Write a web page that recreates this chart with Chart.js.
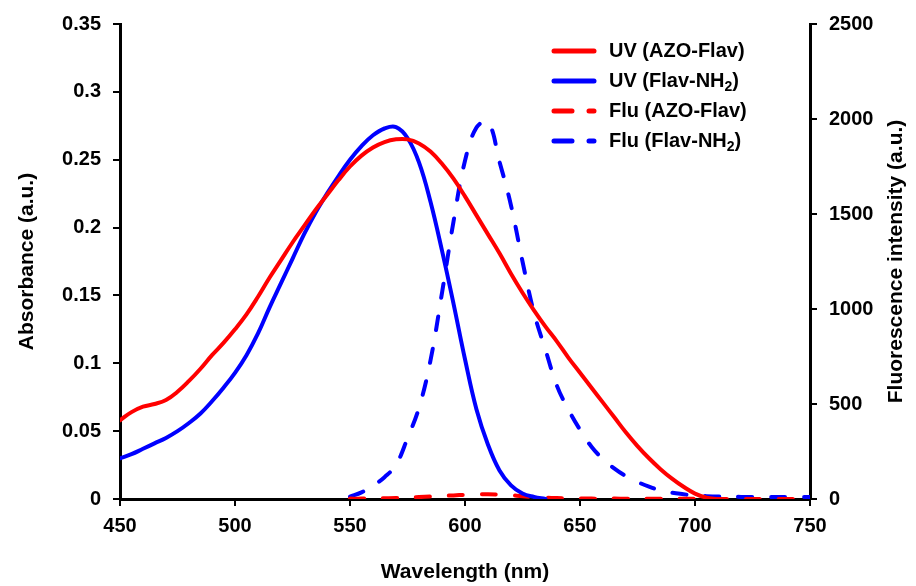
<!DOCTYPE html>
<html>
<head>
<meta charset="utf-8">
<script src="https://cdn.jsdelivr.net/npm/chart.js@4.4.0/dist/chart.umd.min.js"></script>
<style>
  body { margin: 0; background: #fff; }
  #wrap { width: 916px; height: 586px; position: relative; }
</style>
</head>
<body>
<div id="wrap"><canvas id="myChart"></canvas></div>
<script>
// absorbance spectra (left axis)
var uvWavelengths = [450, 455, 460, 465, 470, 475, 480, 485, 490, 495, 500, 505, 510, 515, 520, 525, 530, 535, 540, 545,
    550, 555, 560, 565, 570, 575, 580, 585, 590, 595, 600, 605, 610, 615, 620, 625, 630, 635, 640, 645,
    650, 655, 660, 665, 670, 675, 680, 685, 690, 695, 700, 705, 710];
var uvAzoFlav = [0.058, 0.064, 0.068, 0.070, 0.073, 0.079, 0.087, 0.096, 0.106, 0.115, 0.125, 0.136, 0.149, 0.163, 0.176, 0.189, 0.201, 0.213, 0.224, 0.235,
    0.245, 0.253, 0.259, 0.263, 0.265, 0.265, 0.262, 0.256, 0.247, 0.236, 0.223, 0.209, 0.195, 0.181, 0.166, 0.152, 0.139, 0.127, 0.116, 0.104,
    0.093, 0.082, 0.071, 0.060, 0.049, 0.039, 0.030, 0.022, 0.015, 0.009, 0.004, 0.001, 0];
var uvFlavNH2 = [0.030, 0.033, 0.037, 0.041, 0.045, 0.050, 0.056, 0.063, 0.072, 0.082, 0.093, 0.106, 0.122, 0.141, 0.159, 0.177, 0.195, 0.211, 0.225, 0.238,
    0.250, 0.260, 0.268, 0.273, 0.274, 0.266, 0.248, 0.219, 0.183, 0.144, 0.103, 0.066, 0.040, 0.021, 0.010, 0.004, 0.0015, 0, null, null,
    null, null, null, null, null, null, null, null, null, null, null, null, null];

// fluorescence spectra (right axis)
var fluWavelengths = [550, 555, 560, 565, 570, 575, 580, 585, 590, 595, 600, 605, 610, 615, 620, 625, 630, 635, 640,
    645, 650, 655, 660, 665, 670, 675, 680, 685, 690, 695, 700, 705, 710, 720, 730, 740, 750];
var fluFlavNH2 = [12, 35, 70, 115, 180, 320, 480, 730, 1085, 1460, 1780, 1955, 1985, 1775, 1545, 1250, 980, 785, 595,
    470, 365, 275, 210, 160, 120, 90, 65, 45, 33, 25, 18, 15, 13, 11, 10, 10, 10];
var fluAzoFlav = [2, 2, 3, 4, 5, 7, 10, 13, 16, 19, 22, 24, 25, 23, 20, 15, 10, 7, 5,
    4, 3, 2, 2, 2, 1, 1, 1, 1, 1, 1, 1, 1, 0, 0, 0, 0, 0];

var seriesLabels = ['UV (AZO-Flav)', 'UV (Flav-NH\u2082)', 'Flu (AZO-Flav)', 'Flu (Flav-NH\u2082)'];

function pairs(xs, ys) {
    var out = [];
    for (var i = 0; i < xs.length; i++) {
        if (ys[i] !== null) out.push({x: xs[i], y: ys[i]});
    }
    return out;
}

var font = 'Arial, "Liberation Sans", sans-serif';

// legend in the upper right and the right axis title (drawn reading upwards)
var extras = {
    id: 'extras',
    afterDatasetsDraw: function(chart) {
        var ctx = chart.ctx;
        ctx.save();
        chart.data.datasets.forEach(function(ds, i) {
            var y = 51 + i * 30;
            ctx.strokeStyle = ds.borderColor;
            ctx.lineWidth = 5;
            ctx.lineCap = 'round';
            ctx.setLineDash(ds.borderDash ? [18, 17] : []);
            ctx.beginPath();
            ctx.moveTo(554, y);
            ctx.lineTo(594, y);
            ctx.stroke();
            ctx.setLineDash([]);
            ctx.fillStyle = '#000';
            ctx.textBaseline = 'middle';
            ctx.textAlign = 'left';
            var parts = ds.label.split('\u2082');
            var x = 609;
            ctx.font = 'bold 20px ' + font;
            ctx.fillText(parts[0], x, y);
            if (parts.length > 1) {
                x += ctx.measureText(parts[0]).width;
                ctx.font = 'bold 14px ' + font;
                ctx.fillText('2', x, y + 6);
                x += ctx.measureText('2').width;
                ctx.font = 'bold 20px ' + font;
                ctx.fillText(parts[1], x, y);
            }
        });
        var area = chart.chartArea;
        ctx.translate(896, (area.top + area.bottom) / 2);
        ctx.rotate(-Math.PI / 2);
        ctx.textAlign = 'center';
        ctx.textBaseline = 'middle';
        ctx.font = 'bold 21px ' + font;
        ctx.fillText('Fluorescence intensity (a.u.)', 0, 0);
        ctx.restore();
    }
};

var tickFont = {family: font, size: 20, weight: 'bold'};
var titleFont = {family: font, size: 21, weight: 'bold'};
var axisGrid = {display: true, drawOnChartArea: false, drawTicks: true, tickLength: 7, color: '#000', lineWidth: 2};
var axisBorder = {display: true, color: '#000', width: 3};

var ctx = document.getElementById('myChart').getContext('2d');
var myChart = new Chart(ctx, {
    type: 'line',
    data: {
        datasets: [{
            label: seriesLabels[0],
            data: pairs(uvWavelengths, uvAzoFlav),
            borderColor: '#ff0000',
            yAxisID: 'y'
        }, {
            label: seriesLabels[1],
            data: pairs(uvWavelengths, uvFlavNH2),
            borderColor: '#0000ff',
            yAxisID: 'y'
        }, {
            label: seriesLabels[2],
            data: pairs(fluWavelengths, fluAzoFlav),
            borderColor: '#ff0000',
            borderDash: [14, 19],
            yAxisID: 'y2'
        }, {
            label: seriesLabels[3],
            data: pairs(fluWavelengths, fluFlavNH2),
            borderColor: '#0000ff',
            borderDash: [14, 19],
            yAxisID: 'y2'
        }]
    },
    options: {
        responsive: true,
        maintainAspectRatio: false,
        animation: false,
        layout: {padding: {top: 22, left: 0, right: 0, bottom: 0}},
        elements: {
            point: {radius: 0},
            line: {borderWidth: 4, tension: 0.4, borderCapStyle: 'round', fill: false}
        },
        plugins: {
            legend: {display: false},
            tooltip: {enabled: false}
        },
        scales: {
            x: {
                type: 'linear',
                min: 450,
                max: 750,
                ticks: {stepSize: 50, color: '#000', font: tickFont, padding: 8, maxRotation: 0},
                grid: axisGrid,
                border: axisBorder,
                title: {display: true, text: 'Wavelength (nm)', color: '#000', font: titleFont, padding: {top: 0, bottom: 1}},
                afterFit: function(scale) { scale.height = 87; }
            },
            y: {
                position: 'left',
                min: 0,
                max: 0.35,
                ticks: {
                    stepSize: 0.05, color: '#000', font: tickFont, padding: 12,
                    callback: function(v) { return String(+v.toFixed(2)); }
                },
                grid: axisGrid,
                border: axisBorder,
                title: {display: true, text: 'Absorbance (a.u.)', color: '#000', font: titleFont, padding: {top: 15, bottom: 0}},
                afterFit: function(scale) { scale.width = 120; }
            },
            y2: {
                position: 'right',
                min: 0,
                max: 2500,
                ticks: {
                    stepSize: 500, color: '#000', font: tickFont, padding: 12,
                    callback: function(v) { return String(v); }
                },
                grid: axisGrid,
                border: axisBorder,
                afterFit: function(scale) { scale.width = 106; }
            }
        }
    },
    plugins: [extras]
});
</script>
</body>
</html>
